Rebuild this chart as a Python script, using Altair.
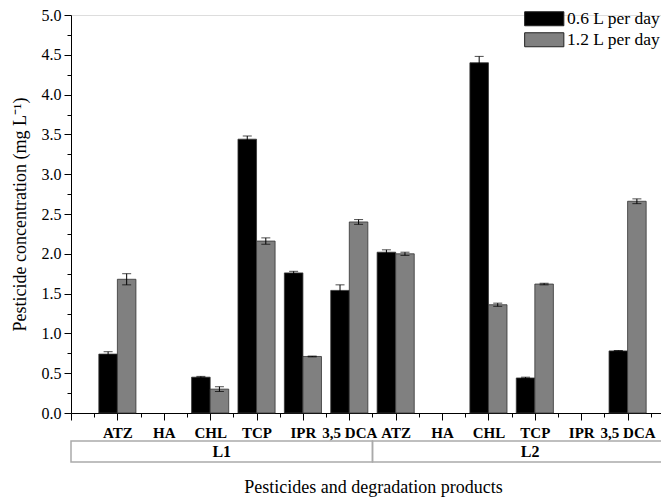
import json
import altair as alt
import pandas as pd

# ---------------- data ----------------
compounds = ["ATZ", "HA", "CHL", "TCP", "IPR", "3,5 DCA"]
sites = ["L1", "L2"]
series_names = ["0.6 L per day", "1.2 L per day"]

low_L1 = [0.74, None, 0.45, 3.44, 1.76, 1.54]
low_L1_err = [0.03, None, 0.01, 0.04, 0.02, 0.07]
high_L1 = [1.68, None, 0.30, 2.16, 0.71, 2.40]
high_L1_err = [0.07, None, 0.03, 0.04, 0.005, 0.03]

low_L2 = [2.02, None, 4.40, 0.44, None, 0.78]
low_L2_err = [0.03, None, 0.08, 0.01, None, 0.005]
high_L2 = [2.00, None, 1.36, 1.62, None, 2.66]
high_L2_err = [0.02, None, 0.02, 0.01, None, 0.03]

y_ticks = [0.0, 0.5, 1.0, 1.5, 2.0, 2.5, 3.0, 3.5, 4.0, 4.5, 5.0]

group_start = [0.0, 6.5]
group_end = [6.5, 13.3]

# ---------------- tables ----------------
BAR_W = 0.4
XMAX = 12.72
series_values = {
    ("L1", series_names[0]): (low_L1, low_L1_err),
    ("L1", series_names[1]): (high_L1, high_L1_err),
    ("L2", series_names[0]): (low_L2, low_L2_err),
    ("L2", series_names[1]): (high_L2, high_L2_err),
}
rows = []
for si, site in enumerate(sites):
    for k, sname in enumerate(series_names):
        vals, errs = series_values[(site, sname)]
        for ci, comp in enumerate(compounds):
            if vals[ci] is None:
                continue
            pos = si * len(compounds) + ci + 1
            x0 = pos - BAR_W if k == 0 else pos
            rows.append(dict(site=site, compound=comp, series=sname,
                             value=vals[ci], err=errs[ci],
                             x0=x0, x1=x0 + BAR_W, xc=x0 + BAR_W / 2,
                             lo=vals[ci] - errs[ci], hi=vals[ci] + errs[ci]))
df = pd.DataFrame(rows)

groups = pd.DataFrame(dict(site=sites, start=group_start, end=group_end))
groups["mid"] = (groups["start"] + groups["end"]) / 2

all_labels = compounds + compounds
FONT = "Liberation Serif, Times New Roman, serif"

xscale = alt.Scale(domain=[0, XMAX], nice=False, zero=False)
yscale = alt.Scale(domain=[0, 5], nice=False)

label_expr = "datum.value < 1 ? '' : " + json.dumps(all_labels).replace('"', "'") + "[datum.value - 1]"

major_x = alt.Axis(values=list(range(0, 13)), labelExpr=label_expr, orient="bottom",
                   tickSize=7, labelPadding=5, labelFont=FONT, labelFontSize=15,
                   labelFontWeight="bold", labelColor="black", grid=False,
                   domainColor="black", tickColor="black", labelFlush=False,
                   title="Pesticides and degradation products", titleFont=FONT,
                   titleFontSize=18, titleFontWeight="normal", titleColor="black",
                   titlePadding=38, titleX=302, labelOverlap=False)
minor_x = alt.Axis(values=[i + 0.5 for i in range(0, 13)], orient="bottom", tickSize=4,
                   labels=False, domain=False, grid=False, tickColor="black", title=None)

major_y = alt.Axis(values=y_ticks, format=".1f", orient="left", tickSize=7, labelPadding=3,
                   labelFont=FONT, labelFontSize=16, labelColor="black", grid=False,
                   domainColor="black", tickColor="black",
                   title="Pesticide concentration (mg L\u207b\u00b9)", titleFont=FONT,
                   titleFontSize=18, titleFontWeight="normal", titleColor="black",
                   titlePadding=12)
minor_y = alt.Axis(values=[v + 0.25 for v in y_ticks[:-1]], orient="left", tickSize=4,
                   labels=False, domain=False, grid=False, tickColor="black", title=None)

legend = alt.Legend(orient="none", legendX=452, legendY=-5, title=None,
                    symbolType="M-2.8,-1H2.8V1H-2.8Z", symbolSize=196,
                    symbolStrokeColor="#222", symbolStrokeWidth=1, symbolOpacity=1,
                    labelFont=FONT, labelFontSize=17.5, labelColor="black",
                    rowPadding=2, symbolOffset=12.5, labelOffset=14, padding=0)

base = alt.Chart(df)

bars = base.mark_bar(stroke="#333", strokeWidth=0.8).encode(
    x=alt.X("x0:Q", scale=xscale, axis=major_x),
    x2="x1:Q",
    y=alt.Y("value:Q", scale=yscale, axis=major_y),
    y2=alt.datum(0),
    color=alt.Color("series:N", scale=alt.Scale(domain=series_names,
                                                range=["#000000", "#808080"]),
                    legend=legend),
)

err_rule = base.mark_rule(color="black", strokeWidth=1).encode(
    x=alt.X("xc:Q", scale=xscale, axis=minor_x),
    y=alt.Y("lo:Q", scale=yscale, axis=minor_y),
    y2="hi:Q",
)
cap_hi = base.mark_tick(orient="horizontal", size=9, thickness=1, color="black").encode(
    x=alt.X("xc:Q", scale=xscale, axis=None),
    y=alt.Y("hi:Q", scale=yscale, axis=None),
)
cap_lo = base.mark_tick(orient="horizontal", size=9, thickness=1, color="black").encode(
    x=alt.X("xc:Q", scale=xscale, axis=None),
    y=alt.Y("lo:Q", scale=yscale, axis=None),
)

gbase = alt.Chart(groups)
boxes = gbase.mark_rect(fill="white", fillOpacity=0, stroke="#aaaaaa", strokeWidth=1.5).encode(
    x=alt.X("start:Q", scale=xscale, axis=None),
    x2="end:Q",
    y=alt.value(426),
    y2=alt.value(447),
)
box_text = gbase.mark_text(font=FONT, fontSize=16, fontWeight="bold", color="black",
                           baseline="middle").encode(
    x=alt.X("mid:Q", scale=xscale, axis=None),
    y=alt.value(437),
    text="site:N",
)

chart = alt.layer(bars, err_rule, cap_hi, cap_lo, boxes, box_text).resolve_axis(
    x="independent", y="independent"
).properties(
    width=590, height=398,
    autosize=alt.AutoSizeParams(type="none"),
    padding={"left": 63, "top": 7, "right": 0, "bottom": 86},
).configure_view(strokeWidth=0).configure(font=FONT)

chart.save("out.html", embed_options={"renderer": "svg", "actions": False})
